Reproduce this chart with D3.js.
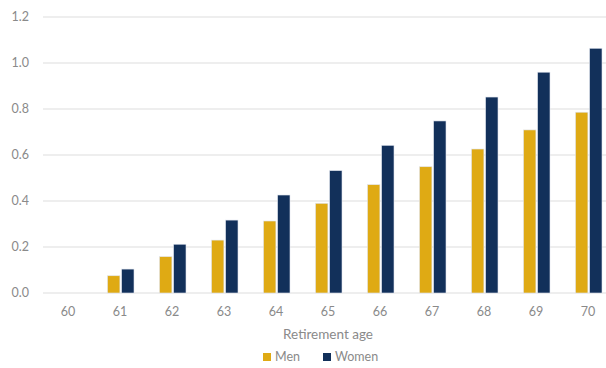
<!DOCTYPE html>
<html><head><meta charset="utf-8">
<script src="https://cdn.jsdelivr.net/npm/d3@7"></script>
<style>body{margin:0;background:#fff}svg{display:block}text{font-family:Lato,"Open Sans",sans-serif}</style>
</head><body><svg id="c" width="606" height="368"></svg>
<script>
const categories = ["60","61","62","63","64","65","66","67","68","69","70"];
const men   = [0, 0.075, 0.158, 0.230, 0.313, 0.390, 0.471, 0.549, 0.626, 0.709, 0.786];
const women = [0, 0.104, 0.212, 0.317, 0.426, 0.532, 0.642, 0.748, 0.852, 0.960, 1.064];
const yTicks = [0, 0.2, 0.4, 0.6, 0.8, 1.0, 1.2];
const seriesNames = ["Men","Women"];
const colors = ["#DFAA14","#12305A"];

const svg = d3.select("#c");
const x = d3.scaleBand().domain(categories).range([43, 615]);
const y = d3.scaleLinear().domain([0, 1.2]).range([293, 17]);
const sub = d3.scaleBand().domain(seriesNames).range([-13.5, 13]).paddingInner(0.12);

svg.append("g").selectAll("line").data(yTicks).join("line")
  .attr("x1", 43).attr("x2", 606)
  .attr("y1", d => y(d)).attr("y2", d => y(d))
  .attr("stroke", "#e8e8e8").attr("stroke-width", 1.3);

svg.append("g").selectAll("text").data(yTicks).join("text")
  .attr("x", 29).attr("y", d => y(d)).attr("dy", "0.35em")
  .attr("text-anchor", "end").attr("fill", "#8a8a8a").attr("font-size", 12.5)
  .text(d => d3.format(".1f")(d));

const data = categories.map((c, i) => ({c, vals: [men[i], women[i]]}));
const g = svg.append("g").selectAll("g").data(data).join("g")
  .attr("transform", d => `translate(${x(d.c) + x.bandwidth()/2},0)`);
g.selectAll("rect").data(d => d.vals.map((v, j) => ({v, s: seriesNames[j], j})).filter(e => e.v > 0))
  .join("rect")
  .attr("x", e => sub(e.s)).attr("width", sub.bandwidth())
  .attr("y", e => y(e.v)).attr("height", e => y(0) - y(e.v))
  .attr("fill", e => colors[e.j]).attr("stroke", "#dfe4ee").attr("stroke-width", 0.6);

svg.append("g").selectAll("text").data(categories).join("text")
  .attr("x", d => x(d) + x.bandwidth()/2 - 1).attr("y", 312).attr("dy", "0.35em")
  .attr("text-anchor", "middle").attr("fill", "#8a8a8a").attr("font-size", 12.5)
  .text(d => d);

svg.append("text").attr("x", 328).attr("y", 334).attr("dy", "0.35em")
  .attr("text-anchor", "middle").attr("fill", "#8a8a8a").attr("font-size", 13.5)
  .text("Retirement age");

const legX = [263, 323];
const lg = svg.append("g").selectAll("g").data(seriesNames).join("g")
  .attr("transform", (d, i) => `translate(${legX[i]},357)`);
lg.append("rect").attr("x", 0).attr("y", -4).attr("width", 8).attr("height", 8)
  .attr("fill", (d, i) => colors[i]);
lg.append("text").attr("x", 12).attr("y", 0).attr("dy", "0.35em")
  .attr("fill", "#8a8a8a").attr("font-size", 12.5).text(d => d);
</script></body></html>
